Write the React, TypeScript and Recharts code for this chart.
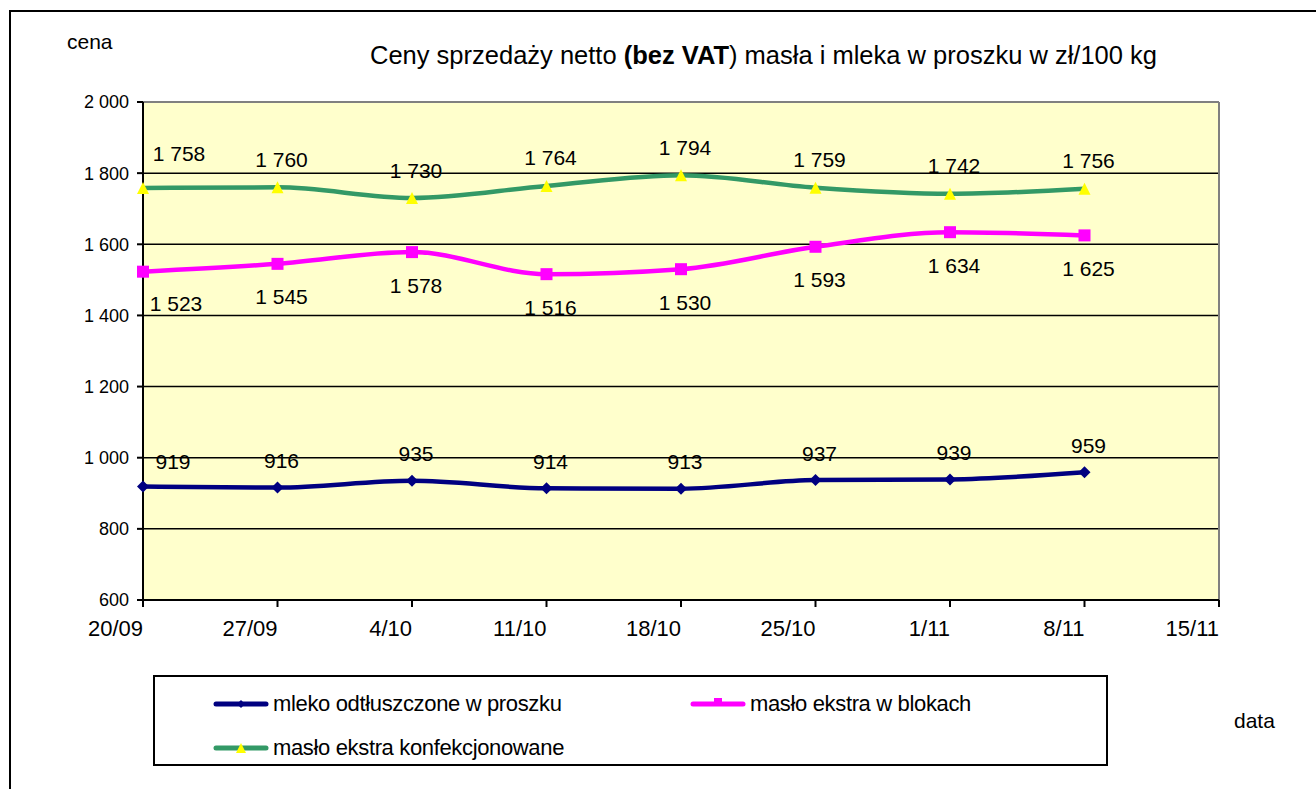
import React from "react";
import {
  LineChart,
  Line,
  XAxis,
  YAxis,
  CartesianGrid,
  ReferenceLine,
  Legend,
} from "recharts";

const categories = ["20/09", "27/09", "4/10", "11/10", "18/10", "25/10", "1/11", "8/11", "15/11"];
const mlekoValues = [919, 916, 935, 914, 913, 937, 939, 959];
const blokiValues = [1523, 1545, 1578, 1516, 1530, 1593, 1634, 1625];
const konfValues = [1758, 1760, 1730, 1764, 1794, 1759, 1742, 1756];
const yTicks = [600, 800, 1000, 1200, 1400, 1600, 1800, 2000];

const FONT = 'Arial, "Liberation Sans", sans-serif';

const data = categories.map((date, i) => ({
  date,
  mleko: mlekoValues[i] ?? null,
  bloki: blokiValues[i] ?? null,
  konf: konfValues[i] ?? null,
}));

// "1758" -> "1 758"
const fmt = (v: number) =>
  v >= 1000 ? `${Math.floor(v / 1000)} ${String(v % 1000).padStart(3, "0")}` : String(v);

const makeLabel = (dy: number, firstDx: number, firstDy: number) => (props: any) => {
  const { x, y, value, index } = props;
  if (value == null) return null;
  const cx = index === 0 ? x + firstDx : x + 4;
  const cy = index === 0 ? y + firstDy : y + dy;
  return (
    <text
      key={`l-${index}`}
      x={cx}
      y={cy}
      textAnchor="middle"
      dominantBaseline="central"
      fontSize={21}
      fontFamily={FONT}
      fill="#000"
    >
      {fmt(value)}
    </text>
  );
};

const Diamond = ({ cx, cy, size = 6 }: any) =>
  cx == null || cy == null ? null : (
    <path
      d={`M${cx},${cy - size} L${cx + size},${cy} L${cx},${cy + size} L${cx - size},${cy} Z`}
      fill="#000080"
    />
  );

const Square = ({ cx, cy, size = 6 }: any) =>
  cx == null || cy == null ? null : (
    <rect x={cx - size} y={cy - size} width={size * 2} height={size * 2} fill="#FF00FF" />
  );

const Triangle = ({ cx, cy, size = 6 }: any) =>
  cx == null || cy == null ? null : (
    <path
      d={`M${cx},${cy - size} L${cx + size},${cy + size} L${cx - size},${cy + size} Z`}
      fill="#FFFF00"
    />
  );

const XTick = ({ x, y, payload }: any) => (
  <text x={x} y={y + 27} textAnchor="end" fontSize={22} fontFamily={FONT} fill="#000">
    {payload.value}
  </text>
);

const legendItems = [
  { name: "mleko odtłuszczone w proszku", color: "#000080", marker: "diamond", left: 58, top: 27 },
  { name: "masło ekstra w blokach", color: "#FF00FF", marker: "square", left: 535, top: 27 },
  { name: "masło ekstra konfekcjonowane", color: "#339966", marker: "triangle", left: 58, top: 71 },
];

const LegendBox = () => (
  <div
    style={{
      position: "relative",
      width: 955,
      height: 91,
      border: "2px solid #000",
      boxSizing: "border-box",
      background: "#fff",
      fontFamily: FONT,
    }}
  >
    {legendItems.map((it) => (
      <div
        key={it.name}
        style={{
          position: "absolute",
          left: it.left,
          top: it.top - 14,
          height: 28,
          display: "flex",
          alignItems: "center",
          whiteSpace: "nowrap",
        }}
      >
        <svg width={56} height={14} style={{ marginRight: 4 }}>
          <line x1={3} y1={7} x2={53} y2={7} stroke={it.color} strokeWidth={5} strokeLinecap="round" />
          {it.marker === "diamond" && <Diamond cx={28} cy={7} size={4} />}
          {it.marker === "square" && <Square cx={28} cy={5} size={4} />}
          {it.marker === "triangle" && <Triangle cx={28} cy={7} size={5} />}
        </svg>
        <span style={{ fontSize: 22, color: "#000", letterSpacing: -0.35 }}>{it.name}</span>
      </div>
    ))}
  </div>
);

export default function App() {
  return (
    <div
      style={{
        position: "absolute",
        left: 0,
        top: 0,
        width: 1316,
        height: 789,
        background: "#fff",
        overflow: "hidden",
        fontFamily: FONT,
      }}
    >
      {/* outer frame: only top and left edges are visible */}
      <div
        style={{
          position: "absolute",
          left: 9,
          top: 10,
          width: 1400,
          height: 900,
          borderTop: "2px solid #000",
          borderLeft: "2px solid #000",
        }}
      />
      <div style={{ position: "absolute", left: 67, top: 30, fontSize: 21, color: "#000" }}>cena</div>
      <div
        style={{
          position: "absolute",
          left: 370,
          top: 41,
          fontSize: 25.5,
          color: "#000",
          whiteSpace: "nowrap",
        }}
      >
        Ceny sprzedaży netto <b>(bez VAT</b>) masła i mleka w proszku w zł/100 kg
      </div>
      <div style={{ position: "absolute", left: 1234, top: 709, fontSize: 21, color: "#000" }}>data</div>

      <div style={{ position: "absolute", left: 0, top: 0 }}>
        <LineChart
          width={1316}
          height={789}
          data={data}
          margin={{ top: 102, right: 97, left: 83, bottom: 68 }}
        >
          <CartesianGrid vertical={false} stroke="#000" strokeWidth={1.5} fill="#FFFFCC" fillOpacity={1} />
          <ReferenceLine y={2000} stroke="#808080" strokeWidth={2} />
          <ReferenceLine x="15/11" stroke="#808080" strokeWidth={2} />
          <XAxis
            dataKey="date"
            scale="point"
            padding={{ left: 0, right: 0 }}
            interval={0}
            height={30}
            tick={<XTick />}
            tickSize={7}
            axisLine={{ stroke: "#000", strokeWidth: 2 }}
            tickLine={{ stroke: "#000", strokeWidth: 2 }}
          />
          <YAxis
            domain={[600, 2000]}
            ticks={yTicks}
            interval={0}
            width={60}
            tickFormatter={fmt}
            tickSize={6}
            tickMargin={8}
            tick={{ fontSize: 18, fill: "#000", fontFamily: FONT }}
            axisLine={{ stroke: "#000", strokeWidth: 2 }}
            tickLine={{ stroke: "#000", strokeWidth: 2 }}
          />
          <Legend
            verticalAlign="bottom"
            height={91}
            content={<LegendBox />}
            wrapperStyle={{ left: 153, top: 675, bottom: "auto", width: 955, height: 91 }}
          />
          <Line
            type="monotone"
            dataKey="mleko"
            name="mleko odtłuszczone w proszku"
            stroke="#000080"
            strokeWidth={4.5}
            dot={<Diamond size={6} />}
            activeDot={false}
            label={makeLabel(-27, 30, -25)}
            isAnimationActive={false}
          />
          <Line
            type="monotone"
            dataKey="bloki"
            name="masło ekstra w blokach"
            stroke="#FF00FF"
            strokeWidth={4.5}
            dot={<Square size={6} />}
            activeDot={false}
            label={makeLabel(33, 33, 32)}
            isAnimationActive={false}
          />
          <Line
            type="monotone"
            dataKey="konf"
            name="masło ekstra konfekcjonowane"
            stroke="#339966"
            strokeWidth={4.5}
            dot={<Triangle size={6} />}
            activeDot={false}
            label={makeLabel(-28, 36, -35)}
            isAnimationActive={false}
          />
        </LineChart>
      </div>
    </div>
  );
}
